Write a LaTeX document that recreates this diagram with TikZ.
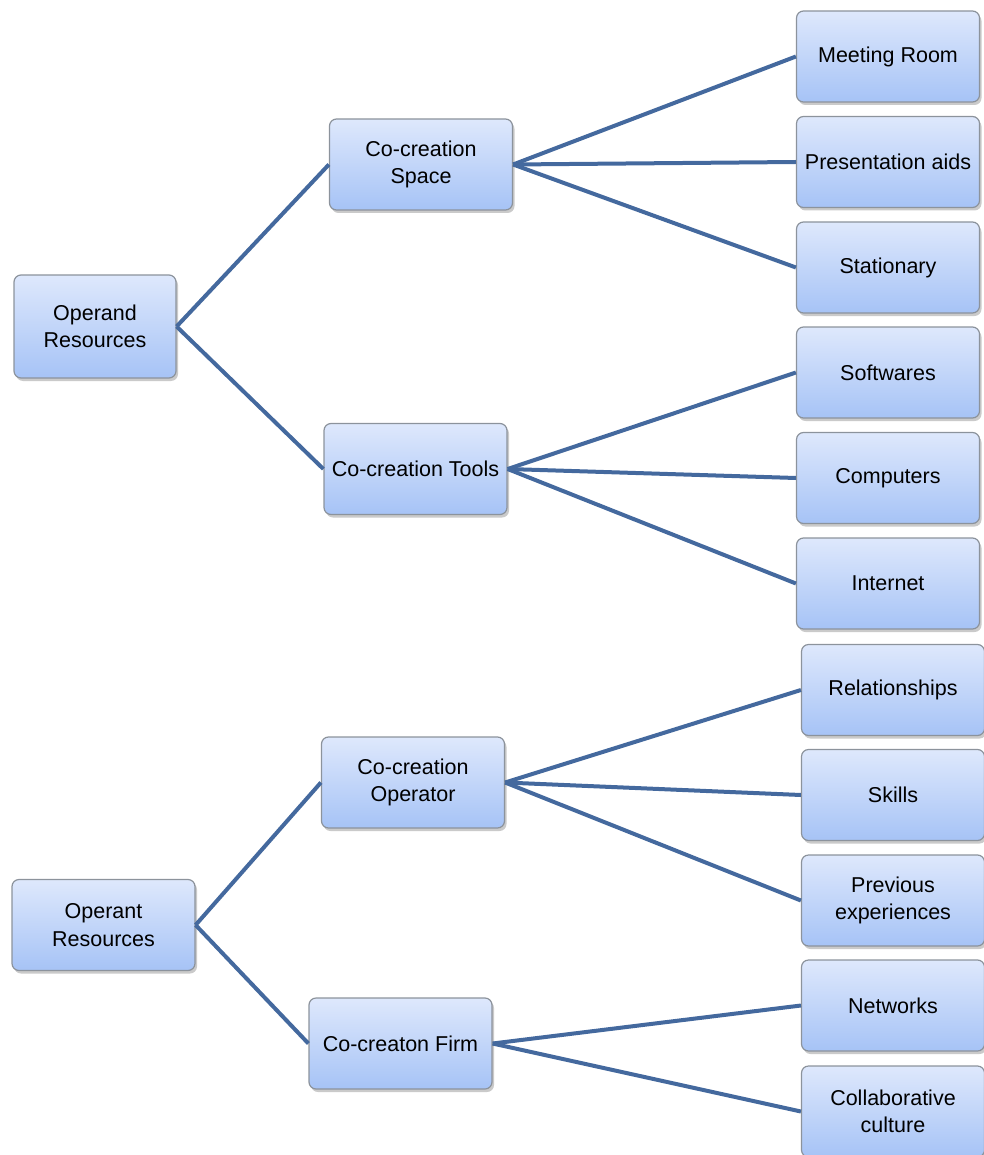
\documentclass[tikz,border=0pt]{standalone}
\usepackage{fontspec}
\setmainfont{Liberation Sans}
\usetikzlibrary{shadows}
\definecolor{boxtop}{HTML}{DEE8FC}
\definecolor{boxbot}{HTML}{A6C3F6}
\definecolor{boxedge}{HTML}{8C939C}
\definecolor{linkc}{HTML}{44699E}
\tikzset{
  box/.style={draw=boxedge, line width=1.2pt, rounded corners=7pt,
    top color=boxtop, bottom color=boxbot,
    minimum width=183pt, minimum height=91pt, inner sep=2pt,
    align=center, font=\fontsize{21.5}{27.5}\selectfont,
    drop shadow={shadow xshift=2pt, shadow yshift=-3pt, opacity=0.35, fill=black!60}},
  link/.style={draw=linkc, line width=4pt}
}
\begin{document}
\begin{tikzpicture}[x=1pt,y=-1pt]
\useasboundingbox (0,0) rectangle (983,1155);
% roots
\node[box, minimum width=162pt, minimum height=103pt] (or) at (95,326.5) {Operand\\Resources};
\node[box] (ot) at (103.5,925) {Operant\\Resources};
% mid level
\node[box] (sp) at (421,164.5) {Co-creation\\Space};
\node[box] (tl) at (415.5,469) {Co-creation Tools};
\node[box] (op) at (413,782.5) {Co-creation\\Operator};
\node[box] (fm) at (400.5,1043.5) {Co-creaton Firm};
% leaves
\node[box] (mr) at (888,56.5) {Meeting Room};
\node[box] (pa) at (888,162) {Presentation aids};
\node[box] (st) at (888,267.5) {Stationary};
\node[box] (sw) at (888,372.5) {Softwares};
\node[box] (cp) at (888,478) {Computers};
\node[box] (in) at (888,583.5) {Internet};
\node[box] (rl) at (893,690) {Relationships};
\node[box] (sk) at (893,795) {Skills};
\node[box] (pe) at (893,900.5) {Previous\\experiences};
\node[box] (nw) at (893,1005.5) {Networks};
\node[box] (cc) at (893,1111.5) {Collaborative\\culture};
% links
\draw[link] (or.east) -- (sp.west);
\draw[link] (or.east) -- (tl.west);
\draw[link] (sp.east) -- (mr.west);
\draw[link] (sp.east) -- (pa.west);
\draw[link] (sp.east) -- (st.west);
\draw[link] (tl.east) -- (sw.west);
\draw[link] (tl.east) -- (cp.west);
\draw[link] (tl.east) -- (in.west);
\draw[link] (ot.east) -- (op.west);
\draw[link] (ot.east) -- (fm.west);
\draw[link] (op.east) -- (rl.west);
\draw[link] (op.east) -- (sk.west);
\draw[link] (op.east) -- (pe.west);
\draw[link] (fm.east) -- (nw.west);
\draw[link] (fm.east) -- (cc.west);
\end{tikzpicture}
\end{document}
